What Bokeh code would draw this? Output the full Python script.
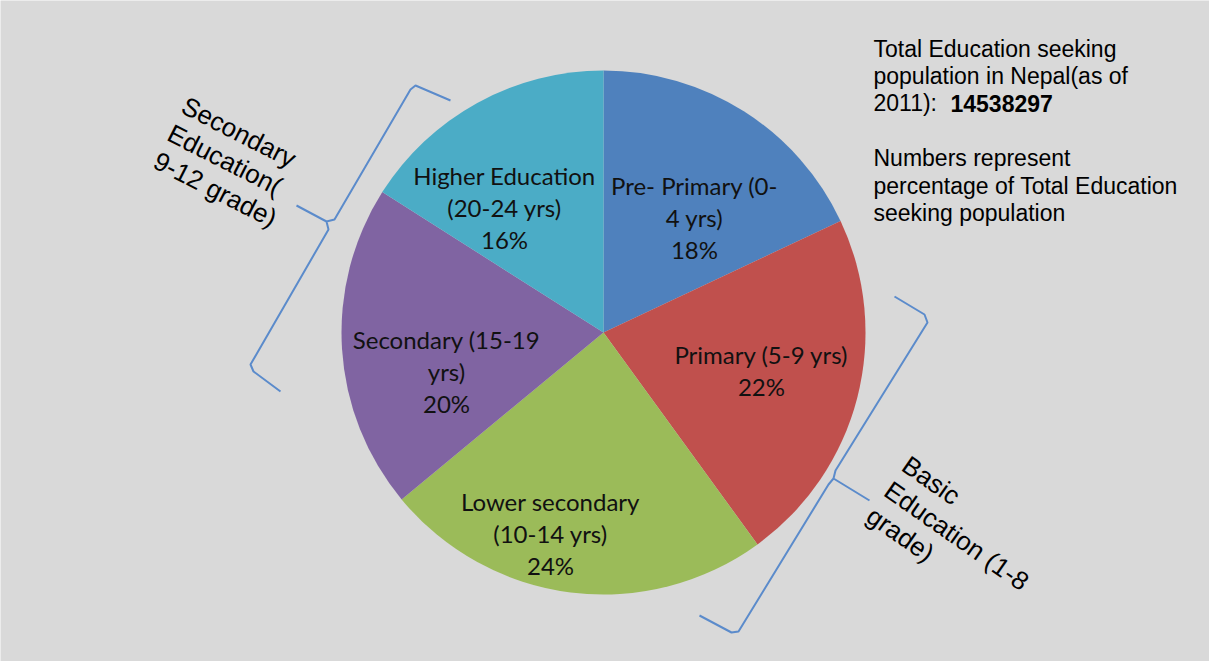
import numpy as np
from bokeh.plotting import figure
from bokeh.models import Range1d, ColumnDataSource
from bokeh.embed import file_html
from bokeh.resources import INLINE
from bokeh.core.properties import value

# ---- data ----
categories = ["Pre- Primary (0-4 yrs)", "Primary (5-9 yrs)", "Lower secondary (10-14 yrs)",
              "Secondary (15-19 yrs)", "Higher Education (20-24 yrs)"]
label_lines = ["Pre- Primary (0-\n4 yrs)", "Primary (5-9 yrs)", "Lower secondary\n(10-14 yrs)",
               "Secondary (15-19\nyrs)", "Higher Education\n(20-24 yrs)"]
percentages = [18, 22, 24, 20, 16]
colors = ["#4F81BD", "#C0504D", "#9BBB59", "#8064A2", "#4BACC6"]
total_population = 14538297
group_labels = ["Secondary\nEducation(\n9-12 grade)", "Basic\nEducation (1-8\ngrade)"]

# ---- layout (page pixels) ----
W, H = 1209, 661
OX, OY = 8, 8


def px(x):
    return x - OX


def py(y):
    return (H + OY) - y


p = figure(width=W, height=H, output_backend="svg", toolbar_location=None,
           x_range=Range1d(0, W), y_range=Range1d(0, H), min_border=0)
p.axis.visible = False
p.grid.visible = False
p.outline_line_color = None
p.background_fill_color = "#D9D9D9"
p.border_fill_color = "#D9D9D9"

# pie
cx, cy, R = px(611), py(340), 262
vals = np.array(percentages, dtype=float)
cum = np.concatenate([[0], np.cumsum(vals)]) / vals.sum()
start = np.pi / 2 - 2 * np.pi * cum[1:]
end = np.pi / 2 - 2 * np.pi * cum[:-1]
src = ColumnDataSource(dict(start=start, end=end, color=colors, cat=categories))
p.wedge(x=cx, y=cy, radius=R, start_angle="start", end_angle="end",
        fill_color="color", line_color=None, source=src)

# slice labels
label_pos = [(702, 225), (769, 378), (558, 541), (454, 379), (512, 215)]
texts = [f"{l}\n{v}%" for l, v in zip(label_lines, percentages)]
lsrc = ColumnDataSource(dict(x=[px(a) for a, b in label_pos], y=[py(b) for a, b in label_pos], t=texts))
p.text(x="x", y="y", text="t", source=lsrc, text_font=value("Lato"), text_font_size="24px",
       text_align="center", text_baseline="middle", text_color="#111111", text_line_height=1.12)

# info text
info_lines = ["Total Education seeking", "population in Nepal(as of", "2011): ", "",
              "Numbers represent", "percentage of Total Education", "seeking population"]
ys = [56 + 27.4 * i for i in range(len(info_lines))]
p.text(x=[px(881)] * len(info_lines), y=[py(y) for y in ys], text=info_lines,
       text_font=value("Liberation Sans"), text_font_size="23px", text_align="left",
       text_baseline="alphabetic", text_color="#000000")
p.text(x=[px(958)], y=[py(ys[2])], text=[str(total_population)], text_font=value("Liberation Sans"),
       text_font_size="23px", text_font_style="bold", text_align="left",
       text_baseline="alphabetic", text_color="#000000")

# group labels (rotated)
p.text(x=[px(177)], y=[py(139)], text=[group_labels[0]], angle=[-np.deg2rad(27)],
       text_font=value("Liberation Sans"), text_font_size="26px", text_align="left",
       text_baseline="middle", text_color="#000000", text_line_height=1.03)
p.text(x=[px(895)], y=[py(495)], text=[group_labels[1]], angle=[-np.deg2rad(35)],
       text_font=value("Liberation Sans"), text_font_size="26px", text_align="left",
       text_baseline="middle", text_color="#000000", text_line_height=1.03)

# braces
left_brace = [(458, 108), (423, 93), (418, 97), (342, 227), (334, 229), (304, 213),
              (334, 229), (336, 237), (258, 372), (261, 379), (288, 399)]
right_brace = [(902, 304), (932, 322), (935, 330), (843, 478), (841, 486), (877, 508),
               (841, 486), (836, 492), (746, 639), (739, 640), (707, 623)]
for br in (left_brace, right_brace):
    p.line([px(a) for a, b in br], [py(b) for a, b in br], line_color="#5B8BCB", line_width=2)

open("out.html", "w").write(file_html(p, INLINE))
